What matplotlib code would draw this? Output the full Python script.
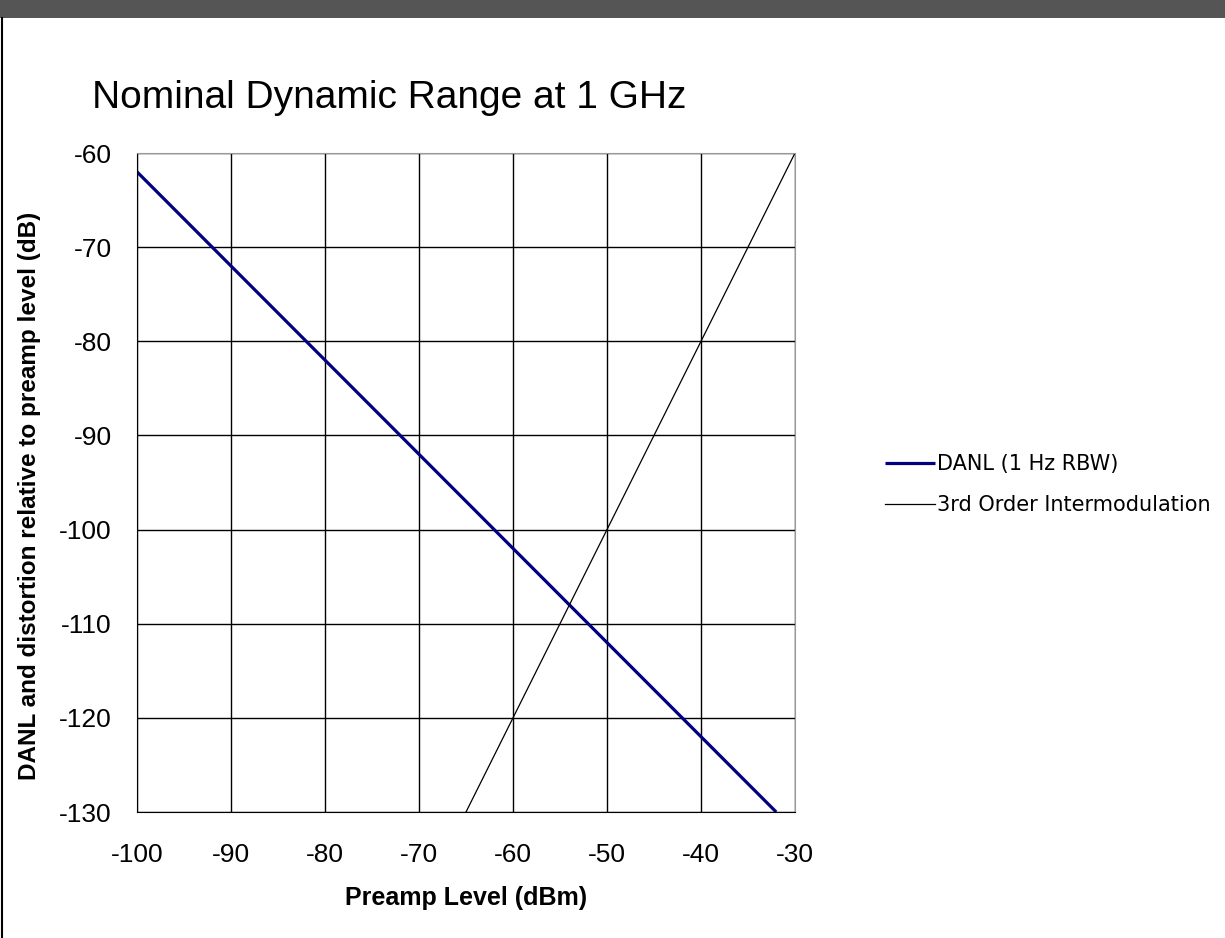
import matplotlib
matplotlib.use('Agg')
import matplotlib.pyplot as plt
from matplotlib.patches import Rectangle
from matplotlib.lines import Line2D

# data
danl_x = [-100, -32]
danl_y = [-62, -130]
im3_x = [-65, -30]
im3_y = [-130, -60]
xticks = [-100, -90, -80, -70, -60, -50, -40, -30]
yticks = [-60, -70, -80, -90, -100, -110, -120, -130]

plt.rcParams['font.family'] = ['Liberation Sans', 'DejaVu Sans']
narrow = ['Liberation Sans Narrow', 'Liberation Sans', 'DejaVu Sans']

fig = plt.figure(figsize=(12.25, 9.38), dpi=100)
fig.patch.set_facecolor('white')

# dark band at top and left border
fig.add_artist(Rectangle((0, 1 - 18/938.), 1, 18/938., transform=fig.transFigure,
                         facecolor='#555555', edgecolor='none'))
fig.add_artist(Line2D([2/1225., 2/1225.], [0, 1 - 18/938.], transform=fig.transFigure,
                      color='black', lw=1.5))

ax = fig.add_axes([137/1225., 126/938., 658/1225., 659/938.])
ax.plot(danl_x, danl_y, color='#000080', lw=2.3, label='DANL (1 Hz RBW)', solid_capstyle='butt')
ax.plot(im3_x, im3_y, color='black', lw=0.9, label='3rd Order Intermodulation')

ax.set_xlim(-100, -30)
ax.set_ylim(-130, -60)
ax.set_xticks(xticks)
ax.set_yticks(yticks)
ax.set_xticklabels([str(t) for t in xticks], fontsize=19)
ax.set_yticklabels([str(t) for t in yticks], fontsize=19)
ax.tick_params(length=0)
ax.tick_params(axis='y', pad=18)
ax.tick_params(axis='x', pad=22)
ax.grid(True, color='black', lw=1)
ax.set_axisbelow(True)
for s in ['left', 'bottom']:
    ax.spines[s].set_color('black')
for s in ['top', 'right']:
    ax.spines[s].set_color('#999999')

ax.set_xlabel('Preamp Level (dBm)', fontsize=18, fontweight='bold', family=narrow, labelpad=14)
ax.set_ylabel('DANL and distortion relative to preamp level (dB)', fontsize=17.5,
              fontweight='bold', family=narrow)
ax.yaxis.set_label_coords(-0.146, 0.48)

fig.text(92/1225., 1 - 98/938., 'Nominal Dynamic Range at 1 GHz', fontsize=28,
         va='center', ha='left')

leg = ax.legend(loc='center left', bbox_to_anchor=(1.108, 0.497), frameon=False,
                prop={'family': 'DejaVu Sans', 'size': 15}, handlelength=2.4,
                handletextpad=0.1, labelspacing=1.0)

fig.savefig('out.png', dpi=100)
